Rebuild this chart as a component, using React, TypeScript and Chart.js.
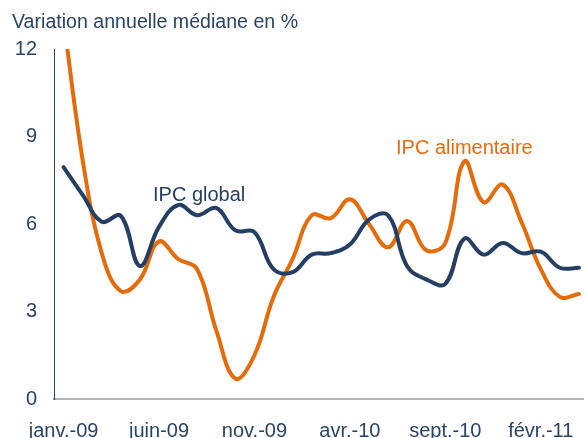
import React, { useEffect, useRef } from 'react';
import { Chart, registerables } from 'chart.js';

Chart.register(...registerables);

// ---------- data ----------
const months = [
  'janv.-09', 'févr.-09', 'mars-09', 'avr.-09', 'mai-09', 'juin-09', 'juil.-09', 'août-09',
  'sept.-09', 'oct.-09', 'nov.-09', 'déc.-09', 'janv.-10', 'févr.-10', 'mars-10', 'avr.-10',
  'mai-10', 'juin-10', 'juil.-10', 'août-10', 'sept.-10', 'oct.-10', 'nov.-10', 'déc.-10',
  'janv.-11', 'févr.-11', 'mars-11', 'avr.-11',
];
const ipcGlobal = [
  7.95, 7.0, 6.08, 6.28, 4.56, 5.9, 6.65, 6.3, 6.55, 5.78, 5.72, 4.45, 4.35, 4.95,
  5.0, 5.3, 6.15, 6.3, 4.55, 4.1, 3.95, 5.5, 4.95, 5.35, 5.0, 5.05, 4.5, 4.5,
];
const ipcAlimentaire = [
  13.0, 8.2, 5.0, 3.7, 4.1, 5.4, 4.8, 4.45, 2.35, 0.7, 1.5, 3.5, 4.8, 6.3,
  6.2, 6.85, 6.0, 5.2, 6.1, 5.1, 5.35, 8.15, 6.75, 7.35, 6.05, 4.45, 3.5, 3.6,
];
const yMin = 0;
const yMax = 12;
const yStep = 3;
const xLabelEvery = 5;
const titleText = 'Variation annuelle médiane en %';
const labelGlobal = 'IPC global';
const labelAlim = 'IPC alimentaire';

// ---------- styles ----------
const NAVY = '#243f63';
const TEXT = '#2a4468';
const ORANGE = '#e46c0a';
const FONT = '"Liberation Sans", Arial, sans-serif';
const FS = 20;

const textPlugin = {
  id: 'texts',
  afterDraw(chart: any) {
    const ctx = chart.ctx;
    ctx.save();
    ctx.textBaseline = 'alphabetic';
    ctx.textAlign = 'left';
    ctx.font = `19.6px ${FONT}`;
    ctx.fillStyle = TEXT;
    ctx.fillText(titleText, 12, 28);
    ctx.font = `${FS}px ${FONT}`;
    ctx.fillStyle = NAVY;
    ctx.fillText(labelGlobal, 153, 201);
    ctx.fillStyle = ORANGE;
    ctx.fillText(labelAlim, 396, 154);
    ctx.restore();
  },
};

export default function App() {
  const ref = useRef<HTMLCanvasElement>(null);

  useEffect(() => {
    document.body.style.margin = '0';
    const canvas = ref.current!;
    const chart = new Chart(canvas, {
      type: 'line',
      data: {
        labels: months,
        datasets: [
          {
            label: labelGlobal,
            data: ipcGlobal,
            borderColor: NAVY,
            borderWidth: 4,
            borderJoinStyle: 'round',
            borderCapStyle: 'round',
            pointRadius: 0,
            tension: 0.4,
            fill: false,
          },
          {
            label: labelAlim,
            data: ipcAlimentaire,
            borderColor: ORANGE,
            borderWidth: 4,
            borderJoinStyle: 'round',
            borderCapStyle: 'round',
            pointRadius: 0,
            tension: 0.4,
            fill: false,
          },
        ],
      },
      options: {
        responsive: false,
        animation: false,
        events: [],
        layout: { padding: { left: 12, top: 49, right: 11.5, bottom: 0 } },
        plugins: {
          legend: { display: false },
          title: { display: false },
          tooltip: { enabled: false },
        },
        scales: {
          x: {
            type: 'category',
            offset: true,
            grid: { display: true, drawOnChartArea: false, drawTicks: false },
            border: { display: true, color: '#b4b4b4', width: 2 },
            ticks: {
              autoSkip: false,
              maxRotation: 0,
              minRotation: 0,
              padding: 20,
              color: TEXT,
              font: { family: FONT, size: FS },
              callback: (_v: any, i: number) => (i % xLabelEvery === 0 ? months[i] : ''),
            },
            afterFit: (s: any) => {
              s.height = 39;
            },
          },
          y: {
            min: yMin,
            max: yMax,
            grid: { display: true, drawOnChartArea: false, drawTicks: false },
            border: { display: true, color: NAVY, width: 1 },
            ticks: {
              stepSize: yStep,
              padding: 17,
              color: TEXT,
              font: { family: FONT, size: FS },
            },
            afterFit: (s: any) => {
              s.width = 42;
            },
          },
        },
      },
      plugins: [textPlugin],
    });
    return () => chart.destroy();
  }, []);

  return (
    <div style={{ position: 'fixed', left: 0, top: 0, width: 584, height: 438, overflow: 'hidden', background: '#fff' }}>
      <canvas ref={ref} width={600} height={438} style={{ width: 600, height: 438, display: 'block' }} />
    </div>
  );
}
